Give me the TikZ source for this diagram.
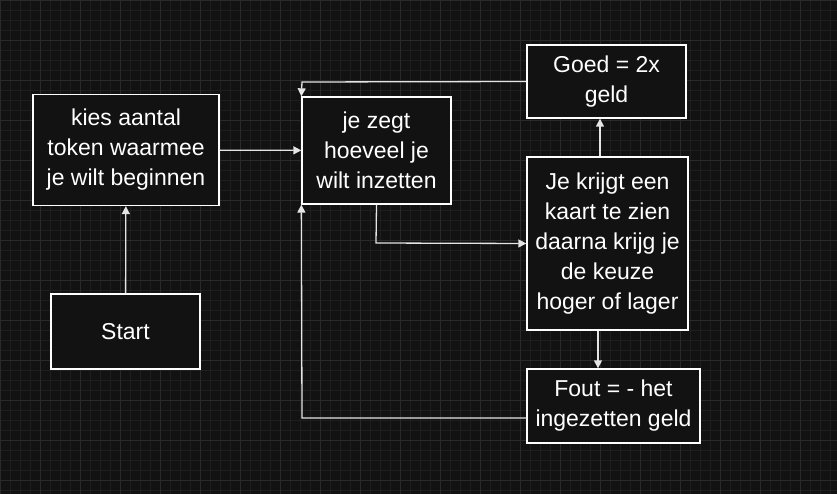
\documentclass[tikz,border=0pt]{standalone}
\usepackage{fontspec}
\setmainfont{Liberation Sans}
\usetikzlibrary{arrows.meta}
\definecolor{bgdark}{HTML}{121212}
\definecolor{gridminor}{HTML}{1E1E1E}
\definecolor{gridmajor}{HTML}{2A2A2A}
\begin{document}
\begin{tikzpicture}[x=1pt,y=-1pt,
    stap/.style={draw=white,fill=bgdark,line width=1.3pt,text=white,align=center,
        font=\fontsize{23}{30}\selectfont,inner sep=0pt},
    pijl/.style={draw=white!90!black,line width=1.3pt,-{Triangle[width=8pt,length=8pt]}}]
    \fill[bgdark] (0,0) rectangle (837,494);
    \useasboundingbox (0,0) rectangle (837,494);
    \foreach \x in {0,10,...,830} \draw[gridminor] (\x,0) -- (\x,494);
    \foreach \y in {0,10,...,490} \draw[gridminor] (0,\y) -- (837,\y);
    \foreach \x in {0,40,...,830} \draw[gridmajor] (\x,0) -- (\x,494);
    \foreach \y in {0,40,...,490} \draw[gridmajor] (0,\y) -- (837,\y);

    \node (kies) [stap,minimum width=186pt,minimum height=111pt] at (126,150) {kies aantal\\token waarmee\\je wilt beginnen};
    \node (start) [stap,minimum width=149pt,minimum height=75pt] at (125.5,331.5) {Start};
    \node (zegt) [stap,minimum width=149pt,minimum height=107pt] at (376.5,150.5) {je zegt\\hoeveel je\\wilt inzetten};
    \node (goed) [stap,minimum width=159pt,minimum height=73pt] at (606.5,81.5) {Goed = 2x\\geld};
    \node (kaart) [stap,minimum width=161pt,minimum height=173pt] at (607.5,243.5) {Je krijgt een\\kaart te zien\\daarna krijg je\\de keuze\\hoger of lager};
    \node (fout) [stap,minimum width=173pt,minimum height=74pt] at (613.5,406) {Fout = - het\\ingezetten geld};
    \coordinate (hoekboven) at (302,82);
    \coordinate (hoekonder) at (302,418);
    \coordinate (knik) at (376,243);

    \draw[pijl] (start) -- (kies);
    \draw[pijl] (kies) -- (zegt);
    \draw[pijl] (goed.west) -- (hoekboven) -- (zegt.north west);
    \draw[pijl] (zegt.south) -- (knik) -- (kaart.west);
    \draw[pijl] (kaart.north -| 600,0) -- (goed.south -| 600,0);
    \draw[pijl] (kaart.south -| 598,0) -- (fout.north -| 598,0);
    \draw[pijl] (fout.west |- hoekonder) -- (hoekonder) -- (zegt.south west);
\end{tikzpicture}
\end{document}
